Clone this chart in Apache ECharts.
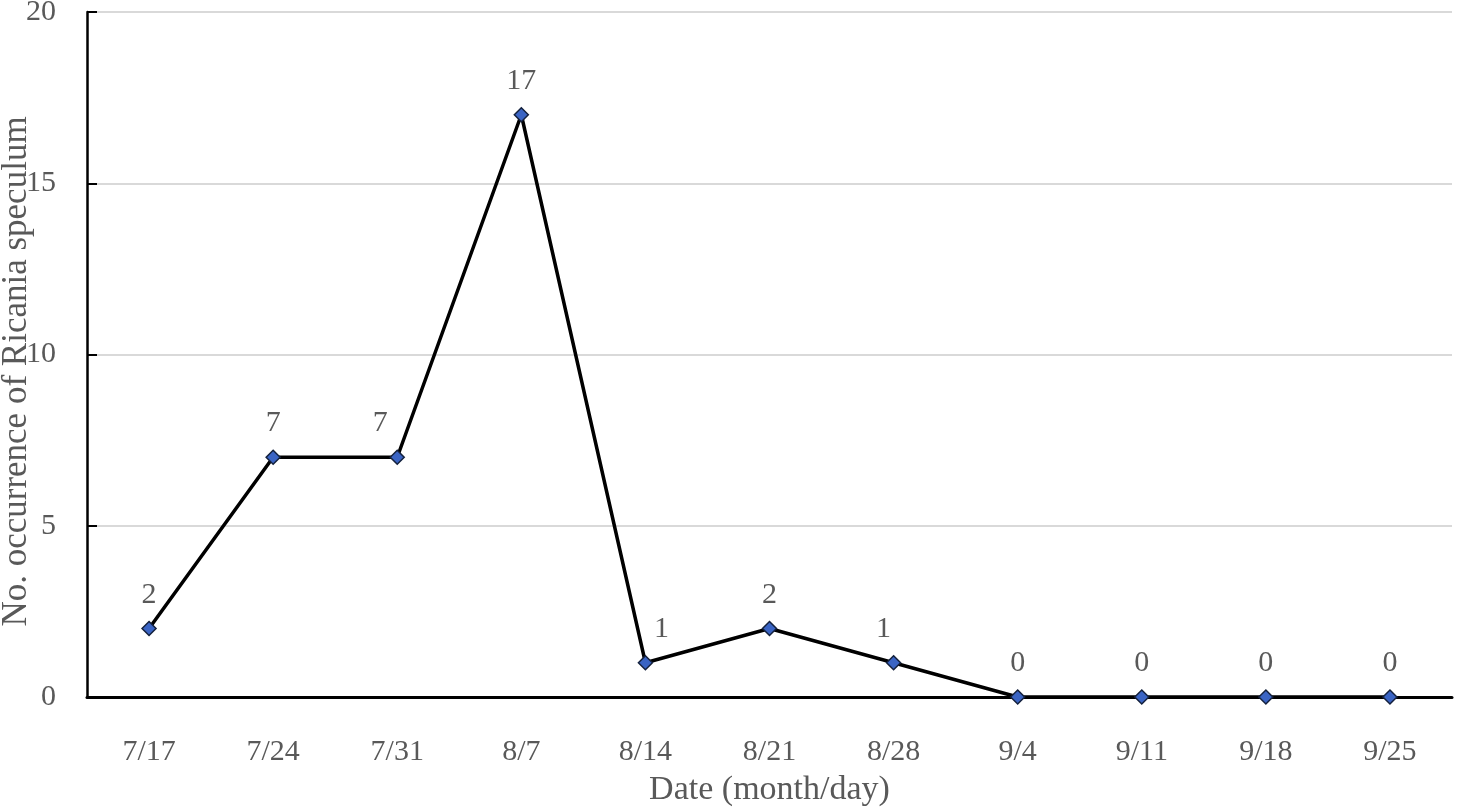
<!DOCTYPE html>
<html>
<head>
<meta charset="utf-8">
<script src="https://cdn.jsdelivr.net/npm/echarts@6/dist/echarts.min.js"></script>
<style>
    html, body { margin: 0; padding: 0; background: #fff; }
    #chart { width: 1457px; height: 810px; }
</style>
</head>
<body>
<div id="chart"></div>
<script>
const dates = ["7/17", "7/24", "7/31", "8/7", "8/14", "8/21", "8/28", "9/4", "9/11", "9/18", "9/25"];
const counts = [2, 7, 7, 17, 1, 2, 1, 0, 0, 0, 0];
const yTicks = { min: 0, max: 20, interval: 5 };

const font = "'Liberation Serif', 'Times New Roman', serif";
const grey = "#595959";
// a few value labels sit a little to the side of their point in the original
const labelShift = { 2: -17, 4: 16, 6: -10 };

const chart = echarts.init(document.querySelector("#chart"));
chart.setOption({
    animation: false,
    grid: { left: 87, right: 5, top: 12, bottom: 113, containLabel: false, outerBoundsMode: "none" },
    xAxis: {
        type: "category",
        data: dates,
        boundaryGap: true,
        name: "Date (month/day)",
        nameLocation: "middle",
        nameGap: 76,
        nameMoveOverlap: false,
        nameTextStyle: { fontFamily: font, fontSize: 34, color: grey },
        axisLine: { lineStyle: { color: "#000", width: 3 } },
        axisTick: { alignWithLabel: true, inside: true, length: 8, lineStyle: { color: "#000", width: 2 } },
        axisLabel: { fontFamily: font, fontSize: 30, color: grey, margin: 40 }
    },
    yAxis: {
        type: "value",
        min: yTicks.min,
        max: yTicks.max,
        interval: yTicks.interval,
        name: "No. occurrence of Ricania speculum",
        nameLocation: "middle",
        nameGap: 53,
        nameMoveOverlap: false,
        nameTextStyle: { fontFamily: font, fontSize: 35, color: grey, padding: [0, 34, 0, 0] },
        axisLine: { show: true, lineStyle: { color: "#000", width: 2.5 } },
        axisTick: { show: true, inside: true, length: 10, lineStyle: { color: "#000", width: 2 } },
        axisLabel: { fontFamily: font, fontSize: 30, color: grey, margin: 31 },
        splitLine: { lineStyle: { color: "#d9d9d9", width: 2 } }
    },
    series: [{
        type: "line",
        data: counts.map((v, i) => labelShift[i] !== undefined
            ? { value: v, label: { offset: [labelShift[i], 0] } }
            : v),
        symbol: "diamond",
        symbolSize: 14,
        lineStyle: { color: "#000", width: 3.5 },
        itemStyle: { color: "#3a64c4", borderColor: "#14213d", borderWidth: 1.5 },
        label: {
            show: true,
            position: "top",
            distance: 11,
            fontFamily: font,
            fontSize: 30,
            color: grey
        }
    }]
});
</script>
</body>
</html>
